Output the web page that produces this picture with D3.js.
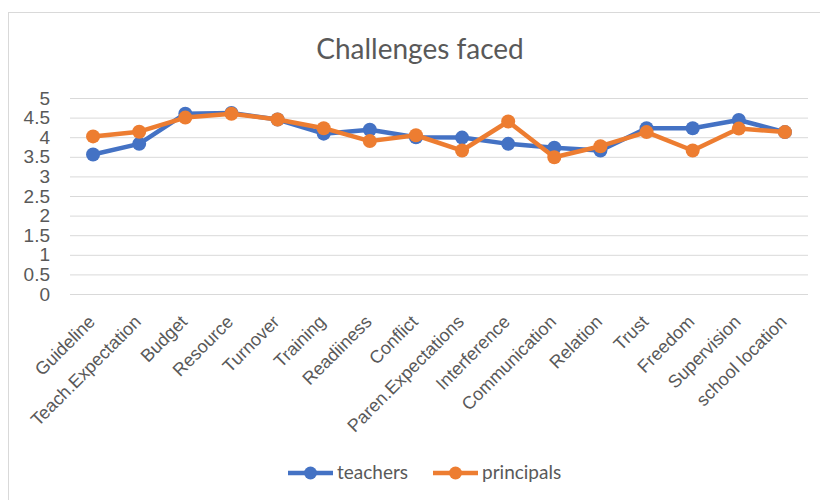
<!DOCTYPE html>
<html>
<head>
<meta charset="utf-8">
<script src="https://cdn.jsdelivr.net/npm/d3@7"></script>
<style>
  body { margin: 0; background: #fff; }
  svg { display: block; font-family: Lato, "Open Sans", sans-serif; }
</style>
</head>
<body>
<div id="chart"></div>
<script>
// categories and series
var categories = ["Guideline", "Teach.Expectation", "Budget", "Resource", "Turnover", "Training",
  "Readiiness", "Conflict", "Paren.Expectations", "Interference", "Communication", "Relation",
  "Trust", "Freedom", "Supervision", "school location"];
var teachers = [3.56, 3.83, 4.60, 4.62, 4.45, 4.09, 4.19, 4.00, 3.99, 3.83, 3.73, 3.66, 4.23, 4.23, 4.44, 4.13];
var principals = [4.02, 4.14, 4.50, 4.60, 4.45, 4.23, 3.90, 4.05, 3.66, 4.40, 3.49, 3.77, 4.13, 3.66, 4.22, 4.13];
var yTicks = [0, 0.5, 1, 1.5, 2, 2.5, 3, 3.5, 4, 4.5, 5];

var series = [
  {name: "teachers", values: teachers, color: "#4472C4"},
  {name: "principals", values: principals, color: "#ED7D31"}
];

var width = 820, height = 500;
var margin = {top: 98, right: 12, bottom: 206, left: 70};

var svg = d3.select("#chart").append("svg")
  .attr("width", width)
  .attr("height", height);

// chart frame
svg.append("rect")
  .attr("x", 8.5).attr("y", 12.5)
  .attr("width", width).attr("height", height)
  .attr("fill", "#fff")
  .attr("stroke", "#d9d9d9");

svg.append("text")
  .attr("x", 420).attr("y", 59)
  .attr("text-anchor", "middle")
  .attr("fill", "#595959")
  .style("font-size", "28px")
  .text("Challenges faced");

var x = d3.scaleBand().domain(categories).range([margin.left, width - margin.right]);
var y = d3.scaleLinear().domain([0, 5]).range([height - margin.bottom, margin.top]);

// gridlines + y labels
var yAxis = svg.append("g")
  .attr("transform", "translate(" + margin.left + ",0)")
  .call(d3.axisLeft(y).tickValues(yTicks).tickFormat(d3.format("")).tickSize(-(width - margin.left - margin.right)).tickPadding(20));
yAxis.select(".domain").remove();
yAxis.selectAll(".tick line").attr("stroke", "#d9d9d9").attr("stroke-width", 1);
yAxis.selectAll(".tick text").attr("fill", "#595959").style("font-size", "19px");

// category labels
var xAxis = svg.append("g")
  .attr("transform", "translate(0," + (height - margin.bottom) + ")")
  .call(d3.axisBottom(x).tickSize(0));
xAxis.select(".domain").remove();
xAxis.selectAll(".tick text")
  .attr("fill", "#595959")
  .style("font-size", "18px")
  .attr("text-anchor", "end")
  .attr("x", 0).attr("y", 0)
  .attr("dy", 0)
  .attr("transform", "translate(3,29) rotate(-45)");

var line = d3.line()
  .x(function(d, i) { return x(categories[i]) + x.bandwidth() / 2; })
  .y(function(d) { return y(d); });

series.forEach(function(s) {
  var g = svg.append("g");
  g.append("path")
    .datum(s.values)
    .attr("fill", "none")
    .attr("stroke", s.color)
    .attr("stroke-width", 4.5)
    .attr("stroke-linejoin", "round")
    .attr("d", line);
  g.selectAll("circle")
    .data(s.values)
    .enter().append("circle")
    .attr("cx", function(d, i) { return x(categories[i]) + x.bandwidth() / 2; })
    .attr("cy", function(d) { return y(d); })
    .attr("r", 7)
    .attr("fill", s.color);
});

// legend
var legendX = [288, 433];
series.forEach(function(s, i) {
  var lg = svg.append("g").attr("transform", "translate(" + legendX[i] + ",473)");
  lg.append("line").attr("x1", 0).attr("x2", 45)
    .attr("stroke", s.color).attr("stroke-width", 4.5);
  lg.append("circle").attr("cx", 22.5).attr("r", 6.5).attr("fill", s.color);
  lg.append("text").attr("x", 49).attr("dy", "0.3em")
    .attr("fill", "#595959").style("font-size", "19px")
    .text(s.name);
});
</script>
</body>
</html>
